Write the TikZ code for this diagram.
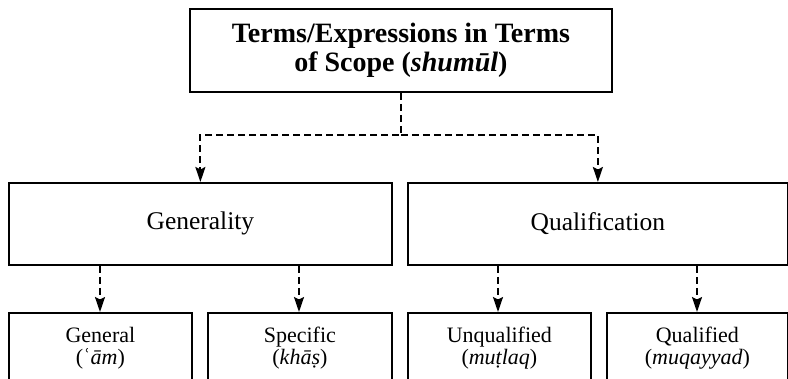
\documentclass[tikz,border=0pt]{standalone}
\usepackage{fontspec}
\setmainfont{Liberation Serif}
\usetikzlibrary{arrows.meta}
\begin{document}
\begin{tikzpicture}[x=1pt,y=-1pt,
  box/.style={draw, line width=1.8pt, inner sep=0pt, anchor=north west},
  lbl/.style={anchor=north, align=center, inner sep=0pt, font=\fontsize{22}{22}\selectfont},
  conn/.style={line width=2pt, dash pattern=on 7pt off 4pt,
    -{Stealth[length=15pt,width=10pt,inset=2.5pt]}}]
\useasboundingbox (0,0) rectangle (788,378);
\clip (0,0) rectangle (788,378);
% top
\node[box, minimum width=422pt, minimum height=83pt, align=center,
  font=\bfseries\fontsize{28}{29}\selectfont] (top) at (189,8)
  {Terms/Expressions in Terms\\of Scope (\textit{shumūl})};
% middle
\node[box, minimum width=383pt, minimum height=82pt,
  font=\fontsize{25.5}{26}\selectfont] (gen) at (8,182) {Generality};
\node[box, minimum width=380pt, minimum height=82pt,
  font=\fontsize{25.5}{26}\selectfont] (qual) at (407,182) {Qualification};
% bottom
\node[box, minimum width=183pt, minimum height=100pt] (g1) at (8,312) {};
\node[box, minimum width=184pt, minimum height=100pt] (s1) at (207,312) {};
\node[box, minimum width=183pt, minimum height=100pt] (u1) at (407,312) {};
\node[box, minimum width=181pt, minimum height=100pt] (q1) at (606,312) {};
\node[lbl] (g1t) at ([yshift=-15pt]g1.north) {General\\(ʿ\textit{ām})};
\node[lbl] (s1t) at ([yshift=-15pt]s1.north) {Specific\\(\textit{khāṣ})};
\node[lbl] (u1t) at ([yshift=-15pt]u1.north) {Unqualified\\(\textit{muṭlaq})};
\node[lbl] (q1t) at ([yshift=-15pt]q1.north) {Qualified\\(\textit{muqayyad})};
% connectors
\coordinate (split) at (top.south |- 0,135);
\draw[conn] (top.south) -- (split) -| (gen.north);
\draw[conn] (split) -| (qual.north);
\draw[conn] (gen.south -| 100,0) -- (g1.north -| 100,0);
\draw[conn] (gen.south -| 299,0) -- (s1.north -| 299,0);
\draw[conn] (qual.south -| 498,0) -- (u1.north -| 498,0);
\draw[conn] (qual.south -| 697,0) -- (q1.north -| 697,0);
\end{tikzpicture}
\end{document}
